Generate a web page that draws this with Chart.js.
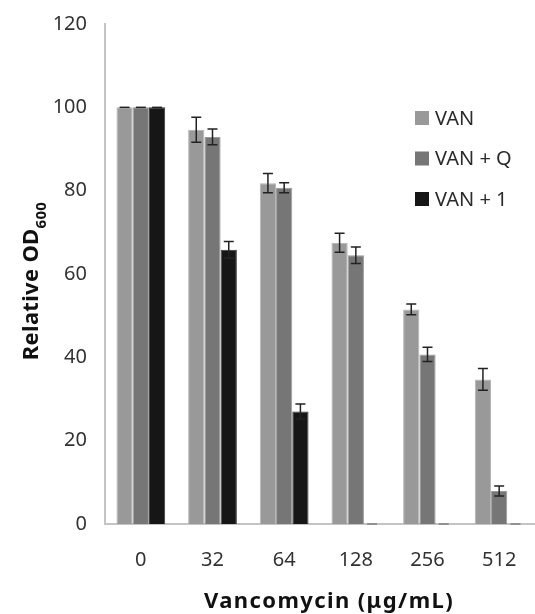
<!DOCTYPE html>
<html>
<head>
<meta charset="utf-8">
<script src="https://cdn.jsdelivr.net/npm/chart.js@4"></script>
<style>
body{margin:0;background:#fff;}
#wrap{width:535px;height:614px;}
</style>
</head>
<body>
<div id="wrap"><canvas id="barChart" width="535" height="614"></canvas></div>
<script>

// ====================== DATA ======================
const doses = ["0","32","64","128","256","512"];
const vanValues = [100,94.6,81.8,67.5,51.5,34.7];
const vanQValues = [100,92.9,80.7,64.5,40.7,7.9];
const van1Values = [100,65.8,27.0,0,0,0];
const vanErr = [0,3.0,2.3,2.3,1.3,2.6];
const vanQErr = [0,1.9,1.2,2.0,1.7,1.2];
const van1Err = [0,2.0,1.8,0,0,0];
const seriesNames = ["VAN","VAN + Q","VAN + 1"];
const yTicks = [0,20,40,60,80,100,120];
const xTitle = "Vancomycin (μg/mL)";

const FONT = "'Noto Sans', 'Open Sans', sans-serif";


// ====================== ERROR BARS ======================
const errorBars = {
id:"errorBars",
afterDatasetsDraw(chart){
const ctx = chart.ctx;
const y = chart.scales.y;
chart.data.datasets.forEach((ds,i)=>{
const meta = chart.getDatasetMeta(i);
meta.data.forEach((bar,j)=>{
const v = ds.data[j];
const e = ds.errors[j];
const top = y.getPixelForValue(v+e);
const bot = y.getPixelForValue(v-e);
ctx.save();
ctx.strokeStyle = v===0 ? "#808080" : "#222";
ctx.lineWidth = 1.5;
ctx.beginPath();
if(e>0){
ctx.moveTo(bar.x,top);ctx.lineTo(bar.x,bot);
ctx.moveTo(bar.x-5,bot);ctx.lineTo(bar.x+5,bot);
}
ctx.moveTo(bar.x-5,top);ctx.lineTo(bar.x+5,top);
ctx.stroke();
ctx.restore();
});
});
}
};


// ====================== LEGEND + TITLES ======================
const extras = {
id:"extras",
afterDraw(chart){
const ctx = chart.ctx;
ctx.save();
// legend
chart.data.datasets.forEach((ds,i)=>{
const cy = 118 + i*40.5;
ctx.fillStyle = ds.backgroundColor;
ctx.fillRect(415,cy-7,14,14);
ctx.fillStyle = "#2b2b2b";
ctx.font = "20px " + FONT;
ctx.textBaseline = "middle";
ctx.textAlign = "left";
ctx.fillText(ds.label,435,cy+1);
});
// x axis title
ctx.fillStyle = "#111";
ctx.font = "bold 22px " + FONT;
ctx.letterSpacing = "1.4px";
ctx.textAlign = "center";
ctx.textBaseline = "alphabetic";
ctx.fillText(xTitle,329,608);
ctx.letterSpacing = "0px";
// y axis title with subscript
ctx.translate(0,281);
ctx.rotate(-Math.PI/2);
const main = "Relative OD";
ctx.font = "bold 22px " + FONT;
ctx.letterSpacing = "0.3px";
const w1 = ctx.measureText(main).width;
ctx.font = "bold 15px " + FONT;
const w2 = ctx.measureText("600").width;
let x0 = -(w1+w2)/2;
ctx.textAlign = "left";
ctx.font = "bold 22px " + FONT;
ctx.fillText(main,x0,38);
ctx.font = "bold 15px " + FONT;
ctx.fillText("600",x0+w1,46);
ctx.restore();
}
};


// ====================== BAR CHART ======================
const barCtx = document.getElementById("barChart");

new Chart(barCtx,{

type:"bar",

data:{
labels:doses,
datasets:[
{label:seriesNames[0],data:vanValues,errors:vanErr,backgroundColor:"#999999",borderColor:"#b4b4b4"},
{label:seriesNames[1],data:vanQValues,errors:vanQErr,backgroundColor:"#767676",borderColor:"#9a9a9a"},
{label:seriesNames[2],data:van1Values,errors:van1Err,backgroundColor:"#161616",borderColor:"#3a3a3a"}
]
},

options:{
responsive:false,
animation:false,
layout:{padding:{top:24,right:0,left:0,bottom:0}},
datasets:{bar:{barPercentage:1,categoryPercentage:0.68,borderWidth:{left:1,right:1,top:1,bottom:0}}},
plugins:{legend:{display:false},tooltip:{enabled:false}},
scales:{
x:{
grid:{display:false,drawTicks:false},
border:{color:"#c4c4c4",width:2},
ticks:{color:"#333",padding:24,font:{family:FONT,size:20}},
afterFit(s){s.height=90;s.paddingLeft=0;s.paddingRight=0;}
},
y:{
min:0,max:120,
grid:{display:false,drawTicks:false},
border:{color:"#c4c4c4",width:2},
afterBuildTicks(s){s.ticks=yTicks.map(v=>({value:v}));},
ticks:{color:"#333",padding:18,font:{family:FONT,size:20}},
afterFit(s){s.width=105;s.paddingTop=0;s.paddingBottom=0;}
}
}
},

plugins:[errorBars,extras]

});

</script>
</body>
</html>
